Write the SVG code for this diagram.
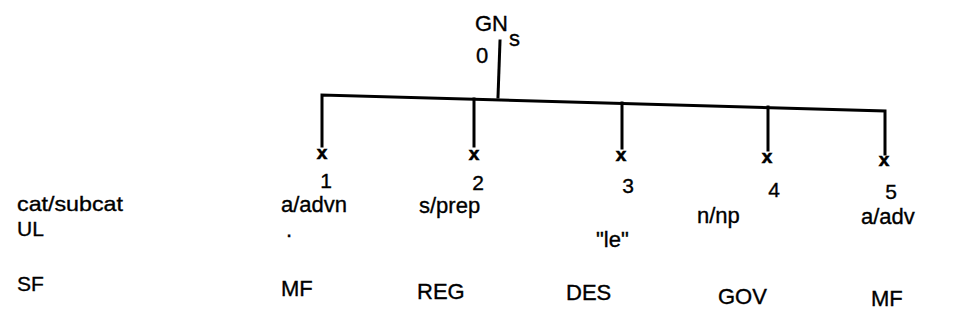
<svg xmlns="http://www.w3.org/2000/svg" width="956" height="327" viewBox="0 0 956 327">
<style>
text{font-family:"Liberation Sans",Arial,sans-serif;fill:#000;stroke:#000;stroke-width:0.35;font-size:22px}
.r{font-size:21px}
.x{font-size:19px;font-weight:bold;text-anchor:middle;stroke-width:0.6}
.n{text-anchor:middle;font-size:21px}
.e{stroke:#000;stroke-width:3;fill:none;stroke-linecap:square}
</style>
<rect width="956" height="327" fill="#fff"/>
<g id="connectors">
<path class="e" d="M500 41 L498 97"/>
<path class="e" d="M322 146 L322 95 L885 111 L885 154"/>
<path class="e" d="M474 99 L474 146"/>
<path class="e" d="M622 103 L622 148"/>
<path class="e" d="M768 107 L768 150"/>
</g>
<g id="labels">
<text class="r" x="17" y="211" textLength="106" lengthAdjust="spacingAndGlyphs">cat/subcat</text>
<text class="r" x="17" y="236">UL</text>
<text class="r" x="17" y="291">SF</text>
</g>
<g id="n0">
<text x="475" y="31" font-size="23">GN</text>
<text x="509" y="46" font-size="20">s</text>
<text x="476" y="63" font-size="21">0</text>
</g>
<g id="n1">
<text class="x" x="322" y="159">x</text>
<text class="n" x="326" y="188">1</text>
<text x="281" y="212">a/advn</text>
<text x="286" y="237">.</text>
<text x="281" y="296">MF</text>
</g>
<g id="n2">
<text class="x" x="474" y="160">x</text>
<text class="n" x="478" y="190">2</text>
<text x="419" y="213">s/prep</text>
<text x="417" y="299">REG</text>
</g>
<g id="n3">
<text class="x" x="621" y="161">x</text>
<text class="n" x="628" y="193">3</text>
<text x="596" y="247">"le"</text>
<text x="566" y="300">DES</text>
</g>
<g id="n4">
<text class="x" x="767" y="163">x</text>
<text class="n" x="774" y="197">4</text>
<text x="697" y="223">n/np</text>
<text x="718" y="304">GOV</text>
</g>
<g id="n5">
<text class="x" x="884" y="166">x</text>
<text class="n" x="891" y="199">5</text>
<text x="861" y="224">a/adv</text>
<text x="871" y="306">MF</text>
</g>
</svg>
